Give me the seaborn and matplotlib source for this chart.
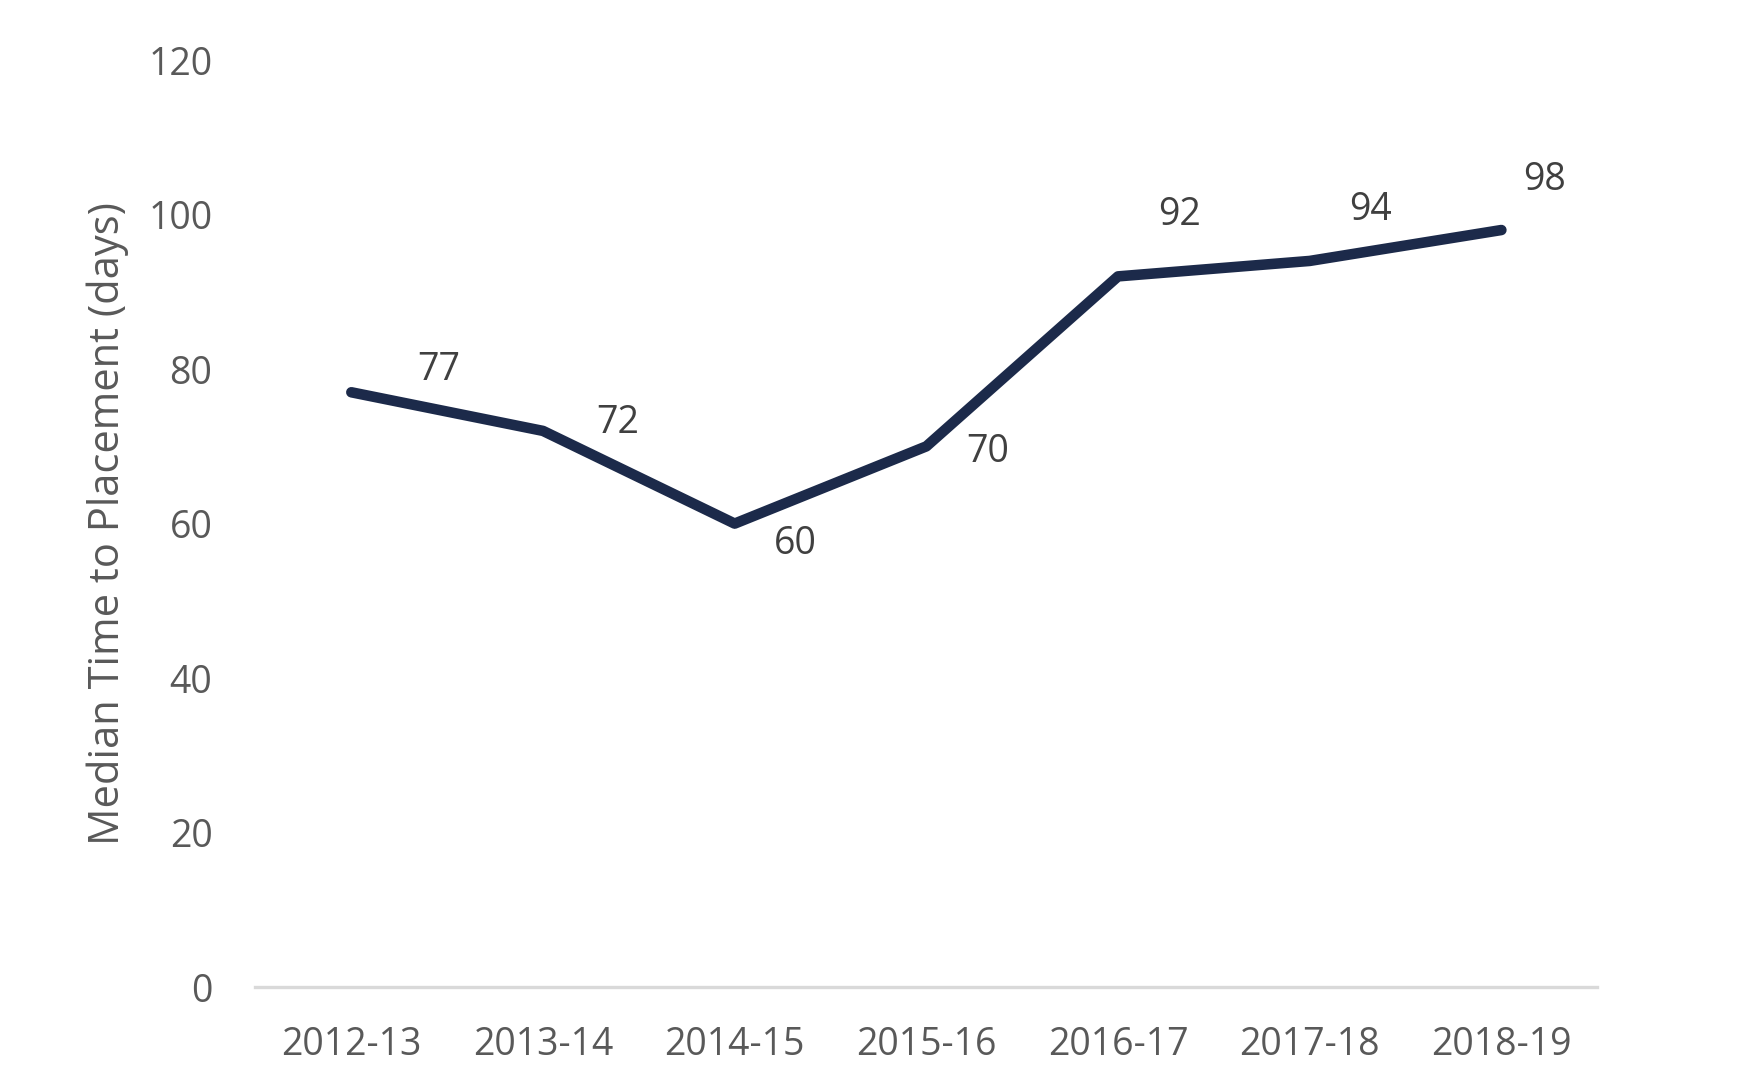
import numpy as np
import pandas as pd
import matplotlib
matplotlib.use('Agg')
import matplotlib.pyplot as plt
import seaborn as sns

# data
years = ['2012-13', '2013-14', '2014-15', '2015-16', '2016-17', '2017-18', '2018-19']
median_days = [77, 72, 60, 70, 92, 94, 98]
y_ticks = [0, 20, 40, 60, 80, 100, 120]

# label offsets (points) like the hand-placed excel labels
label_offsets = [(63, 16), (54, 6), (44, -15), (44, -4), (44, 44), (44, 37), (31, 36)]

sns.set_theme(style='white')
plt.rcParams['font.family'] = ['Open Sans', 'DejaVu Sans']

df = pd.DataFrame({'year': years, 'days': median_days})

fig = plt.figure(figsize=(17.38, 10.92), dpi=100)
ax = fig.add_axes([0.147, 0.096, 0.772, 0.849])

sns.lineplot(data=df, x='year', y='days', ax=ax, color='#1c2a4a',
             linewidth=7.6, solid_capstyle='round', solid_joinstyle='round',
             sort=False)

for i, (yr, v) in enumerate(zip(years, median_days)):
    ax.annotate(str(v), xy=(i, v), xytext=label_offsets[i], textcoords='offset points',
                ha='center', va='center', fontsize=27, color='#404040')

ax.set_xlim(-0.5, len(years) - 0.5)
ax.set_ylim(0, 120)
ax.set_yticks(y_ticks)
ax.set_xlabel('')
ax.set_ylabel('Median Time to Placement (days)', fontsize=30, color='#595959', labelpad=14)
ax.tick_params(axis='x', labelsize=27, labelcolor='#595959', pad=28, length=0)
ax.tick_params(axis='y', labelsize=27, labelcolor='#595959', pad=31, length=0)

for s in ['top', 'right', 'left']:
    ax.spines[s].set_visible(False)
ax.spines['bottom'].set_color('#d9d9d9')
ax.spines['bottom'].set_linewidth(2.4)
ax.grid(False)

plt.savefig('out.png', dpi=100)
